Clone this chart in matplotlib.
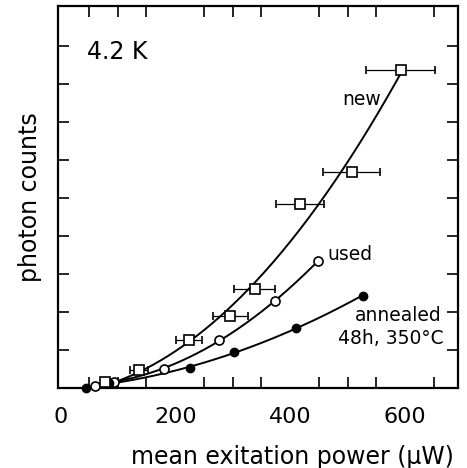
import numpy as np
import matplotlib
matplotlib.use("Agg")
import matplotlib.pyplot as plt

plt.rcParams['font.family'] = ['DejaVu Sans']

# data (x in µW, y in arbitrary units)
new_x = [78, 137, 224, 296, 338, 417, 507, 592]
new_y = [0.17, 0.47, 1.25, 1.89, 2.60, 4.84, 5.68, 8.37]
new_xerr = [0, 15, 23, 30, 35, 42, 50, 60]

used_x = [61, 94, 180, 277, 374, 449]
used_y = [0.05, 0.17, 0.50, 1.26, 2.30, 3.35]

ann_x = [45, 85, 226, 303, 410, 526]
ann_y = [0.01, 0.12, 0.52, 0.95, 1.58, 2.43]

xticks_labeled = [0, 200, 400, 600]
xticks_minor = [50, 100, 150, 200, 250, 300, 350, 400, 450, 500, 550, 600, 650]
yticks = [1, 2, 3, 4, 5, 6, 7, 8, 9]

fig = plt.figure(figsize=(4.67, 4.68), dpi=100)
ax = fig.add_axes([0.124, 0.171, 0.857, 0.816])

def fit_curve(xs, ys, x0, deg=2):
    xs = np.asarray(xs, float); ys = np.asarray(ys, float)
    m = xs >= x0
    p = np.polyfit(xs[m], ys[m], deg)
    xx = np.linspace(x0, xs[-1], 200)
    return xx, np.polyval(p, xx)

lw = 1.4
for xs, ys in [(new_x, new_y), (used_x, used_y), (ann_x, ann_y)]:
    xx, yy = fit_curve(xs, ys, 85)
    ax.plot(xx, yy, color='black', lw=lw)

ax.errorbar(new_x, new_y, xerr=new_xerr, fmt='s', ms=6.5, mfc='white', mec='black',
            mew=1.2, ecolor='black', elinewidth=0.9, capsize=3, capthick=0.9,
            zorder=5, clip_on=False)
ax.plot(used_x, used_y, 'o', ms=6.5, mfc='white', mec='black', mew=1.2,
        zorder=5, clip_on=False)
ax.plot(ann_x, ann_y, 'o', ms=6, mfc='black', mec='black', zorder=5, clip_on=False)

ax.set_xlim(-4, 692)
ax.set_ylim(0, 10.05)
ax.set_xticks(xticks_labeled)
ax.set_xticklabels([str(v) for v in xticks_labeled])
ax.set_xticks(xticks_minor, minor=True)
ax.set_yticks(yticks)
ax.set_yticklabels([])
ax.tick_params(which='both', direction='in', top=True, right=True, length=8, width=1.2)
ax.tick_params(axis='x', which='major', length=0, labelsize=16, pad=14)
for s in ax.spines.values():
    s.set_linewidth(1.6)

ax.set_xlabel('mean exitation power (µW)', fontsize=17)
ax.xaxis.set_label_coords(0.585, -0.15)
ax.set_ylabel('photon counts', fontsize=17, labelpad=8)

ax.text(0.072, 0.88, '4.2 K', transform=ax.transAxes, fontsize=17, va='center')
ax.text(524, 7.6, 'new', fontsize=13.5, ha='center', va='center')
ax.text(465, 3.5, 'used', fontsize=13.5, ha='left', va='center')
ax.text(664, 1.9, 'annealed', fontsize=13.5, ha='right', va='center')
ax.text(667, 1.3, '48h, 350°C', fontsize=13.5, ha='right', va='center')

fig.savefig('out.png', dpi=100)
